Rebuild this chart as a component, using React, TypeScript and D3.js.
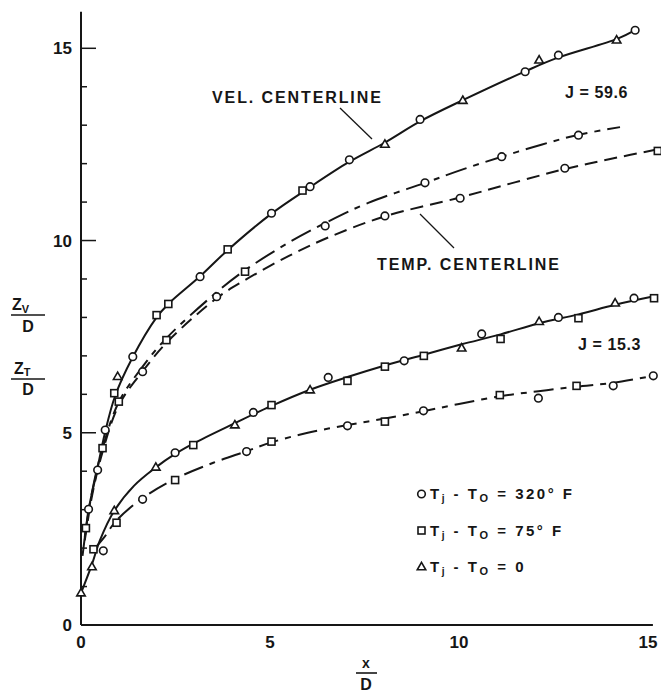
import React from 'react';
import * as d3 from 'd3';

type P = [number, number];
type M = [number, number, 'o' | 's' | 't'];

// ---- tick values ----
const X_TICK_LABELS = [0, 5, 10, 15];
const Y_TICK_LABELS = [0, 5, 10, 15];
const Y_MINOR = d3.range(1, 16);

// ---- J = 59.6, velocity centerline (solid) ----
const velHighLine: P[] = [
  [0.04, 1.8], [0.13, 2.5], [0.2, 3.0], [0.42, 4.0], [0.63, 4.98], [0.9, 5.95], [1.36, 6.95],
  [2.0, 8.0], [2.31, 8.35], [3.15, 9.07], [3.88, 9.75], [5.04, 10.7], [6.0, 11.35], [7.1, 12.05],
  [8.04, 12.55], [8.97, 13.1], [10.1, 13.65], [11.75, 14.4], [12.6, 14.75], [14.2, 15.25], [14.66, 15.47],
];
const velHighPts: M[] = [
  [0.13, 2.52, 's'], [0.2, 3.01, 'o'], [0.44, 4.03, 'o'], [0.64, 5.07, 'o'], [0.88, 6.03, 's'],
  [0.97, 6.46, 't'], [1.37, 6.98, 'o'], [2.0, 8.06, 's'], [2.31, 8.35, 's'], [3.15, 9.06, 'o'],
  [3.88, 9.77, 's'], [5.04, 10.71, 'o'], [5.86, 11.3, 's'], [6.06, 11.4, 'o'], [7.1, 12.1, 'o'],
  [8.04, 12.5, 't'], [8.97, 13.15, 'o'], [10.1, 13.64, 't'], [11.75, 14.39, 'o'], [12.12, 14.69, 't'],
  [12.63, 14.82, 'o'], [14.17, 15.21, 't'], [14.66, 15.47, 'o'],
];

// ---- J = 59.6, temperature centerline (dash-dot) ----
const tempHighALine: P[] = [
  [0.1, 2.3], [0.3, 3.5], [0.57, 4.6], [1.0, 5.8], [1.6, 6.68], [2.25, 7.45], [3.5, 8.58],
  [4.3, 9.2], [5.5, 9.95], [6.55, 10.5], [7.6, 10.98], [9.1, 11.5], [10.1, 11.85], [11.13, 12.18],
  [12.2, 12.5], [13.16, 12.75], [14.26, 12.95],
];
const tempHighAPts: M[] = [
  [0.57, 4.6, 's'], [1.0, 5.81, 's'], [2.26, 7.41, 's'], [4.34, 9.19, 's'], [6.46, 10.38, 'o'],
  [9.1, 11.5, 'o'], [11.13, 12.18, 'o'], [13.16, 12.74, 'o'],
];

// ---- J = 59.6, temperature centerline (dashed) ----
const tempHighBLine: P[] = [
  [0.1, 2.2], [0.3, 3.4], [0.57, 4.5], [1.0, 5.72], [1.63, 6.6], [2.3, 7.38], [3.59, 8.5],
  [4.3, 8.95], [5.5, 9.6], [6.59, 10.1], [8.04, 10.63], [10.03, 11.12], [11.5, 11.52], [12.8, 11.86],
  [14.0, 12.12], [15.3, 12.38],
];
const tempHighBPts: M[] = [
  [1.63, 6.59, 'o'], [3.59, 8.54, 'o'], [8.04, 10.64, 'o'], [10.03, 11.1, 'o'], [12.8, 11.88, 'o'],
  [15.26, 12.33, 's'],
];

// ---- J = 15.3, velocity centerline (solid) ----
const velLowLine: P[] = [
  [0.0, 0.83], [0.28, 1.55], [0.5, 2.2], [0.88, 2.97], [1.4, 3.62], [1.98, 4.1], [2.49, 4.45],
  [2.97, 4.72], [4.07, 5.25], [5.04, 5.7], [6.06, 6.12], [7.05, 6.45], [8.04, 6.75], [9.07, 7.03],
  [10.07, 7.3], [11.1, 7.56], [12.12, 7.85], [13.16, 8.08], [14.13, 8.33], [15.16, 8.55],
];
const velLowPts: M[] = [
  [0.0, 0.83, 't'], [0.29, 1.51, 't'], [0.33, 1.97, 's'], [0.88, 2.97, 't'], [1.98, 4.1, 't'],
  [2.49, 4.48, 'o'], [2.97, 4.68, 's'], [4.07, 5.2, 't'], [4.56, 5.53, 'o'], [5.04, 5.72, 's'],
  [6.06, 6.11, 't'], [6.54, 6.44, 'o'], [7.05, 6.35, 's'], [8.04, 6.72, 's'], [8.55, 6.87, 'o'],
  [9.07, 7.0, 's'], [10.07, 7.2, 't'], [10.6, 7.57, 'o'], [11.1, 7.44, 's'], [12.12, 7.89, 't'],
  [12.63, 8.0, 'o'], [13.16, 7.98, 's'], [14.13, 8.37, 't'], [14.63, 8.5, 'o'], [15.16, 8.5, 's'],
];

// ---- J = 15.3, temperature centerline (dash-dot) ----
const tempLowLine: P[] = [
  [0.33, 1.95], [0.59, 2.25], [0.94, 2.72], [1.63, 3.3], [2.49, 3.8], [3.5, 4.22], [4.38, 4.52],
  [5.04, 4.75], [6.0, 5.0], [7.05, 5.2], [8.04, 5.37], [9.06, 5.56], [10.0, 5.75], [11.08, 5.95],
  [12.1, 6.08], [13.11, 6.2], [14.08, 6.3], [15.14, 6.48],
];
const tempLowPts: M[] = [
  [0.59, 1.93, 'o'], [0.94, 2.66, 's'], [1.63, 3.27, 'o'], [2.49, 3.77, 's'], [4.38, 4.51, 'o'],
  [5.04, 4.77, 's'], [7.05, 5.18, 'o'], [8.04, 5.29, 's'], [9.06, 5.57, 'o'], [11.08, 5.98, 's'],
  [12.1, 5.9, 'o'], [13.11, 6.22, 's'], [14.08, 6.22, 'o'], [15.14, 6.48, 'o'],
];

// ---- legend entries ----
const LEGEND_MARKS: ('o' | 's' | 't')[] = ['o', 's', 't'];
const LEGEND_VALUES = ['320° F', '75° F', '0'];

const INK = '#161616';
const FONT = '"Liberation Sans", Arial, sans-serif';

function Marker({ cx, cy, m }: { cx: number; cy: number; m: 'o' | 's' | 't' }) {
  const common = { fill: '#fff', stroke: INK, strokeWidth: 1.6 };
  if (m === 'o') return <circle cx={cx} cy={cy} r={3.8} {...common} />;
  if (m === 's') return <rect x={cx - 3.5} y={cy - 3.5} width={7} height={7} {...common} />;
  const s = 8.5;
  const h = s * 0.866;
  return (
    <path
      d={`M${cx},${cy - h * 0.62}L${cx + s / 2},${cy + h * 0.38}L${cx - s / 2},${cy + h * 0.38}Z`}
      {...common}
    />
  );
}

export default function App() {
  const x = d3.scaleLinear().domain([0, 15]).range([81, 648]);
  const y = d3.scaleLinear().domain([0, 15]).range([625, 48.3]);
  const line = d3
    .line<P>()
    .x((d) => x(d[0]))
    .y((d) => y(d[1]))
    .curve(d3.curveCatmullRom.alpha(0.5));

  const curves: { data: P[]; dash?: string }[] = [
    { data: velHighLine },
    { data: tempHighALine, dash: '22 7 6 7' },
    { data: tempHighBLine, dash: '13 7' },
    { data: velLowLine },
    { data: tempLowLine, dash: '20 7 6 7' },
  ];
  const markerSets = [velHighPts, tempHighAPts, tempHighBPts, velLowPts, tempLowPts];

  return (
    <svg
      width={661}
      height={695}
      style={{ position: 'absolute', left: 0, top: 0, background: '#fff' }}
      fontFamily={FONT}
      fontWeight="bold"
    >
      <rect width={661} height={695} fill="#fff" />
      {/* axes */}
      <line x1={x(0)} x2={x(0)} y1={y(15.95)} y2={y(0)} stroke={INK} strokeWidth={2} />
      <line x1={x(0)} x2={x(15.13)} y1={y(0)} y2={y(0)} stroke={INK} strokeWidth={2} />
      {Y_MINOR.map((v) => (
        <line
          key={v}
          x1={x(0)}
          x2={x(0) + (v % 5 === 0 ? 15 : 6)}
          y1={y(v)}
          y2={y(v)}
          stroke={INK}
          strokeWidth={1.5}
        />
      ))}
      {Y_TICK_LABELS.map((v) => (
        <text key={v} x={x(0) - 9} y={y(v) + 6} textAnchor="end" fontSize={17} fill={INK}>
          {v}
        </text>
      ))}
      {X_TICK_LABELS.map((v) => (
        <text key={v} x={x(v)} y={648} textAnchor="middle" fontSize={17} fill={INK}>
          {v}
        </text>
      ))}

      {/* axis titles */}
      <text x={12} y={310} fontSize={16} fill={INK}>
        Z<tspan fontSize={11} dy={3}>V</tspan>
      </text>
      <line x1={11} x2={45} y1={315} y2={315} stroke={INK} strokeWidth={1.6} />
      <text x={28} y={332} fontSize={16} textAnchor="middle" fill={INK}>D</text>

      <text x={14} y={374} fontSize={16} fill={INK}>
        Z<tspan fontSize={11} dy={2}>T</tspan>
      </text>
      <line x1={11} x2={45} y1={379} y2={379} stroke={INK} strokeWidth={1.6} />
      <text x={28} y={395} fontSize={16} textAnchor="middle" fill={INK}>D</text>

      <text x={366} y={668} fontSize={14} textAnchor="middle" fill={INK}>x</text>
      <line x1={356} x2={377} y1={673} y2={673} stroke={INK} strokeWidth={1.6} />
      <text x={366} y={690} fontSize={16} textAnchor="middle" fill={INK}>D</text>

      {/* curves */}
      {curves.map((c, i) => (
        <path
          key={i}
          d={line(c.data) || ''}
          fill="none"
          stroke={INK}
          strokeWidth={2}
          strokeDasharray={c.dash}
        />
      ))}
      {markerSets.map((set, i) =>
        set.map((p, j) => <Marker key={`${i}-${j}`} cx={x(p[0])} cy={y(p[1])} m={p[2]} />)
      )}

      {/* annotations */}
      <text x={212} y={103} fontSize={16} letterSpacing={1.9} fill={INK}>VEL. CENTERLINE</text>
      <line x1={340} y1={108} x2={372} y2={139} stroke={INK} strokeWidth={1.3} />
      <text x={377} y={270} fontSize={16} letterSpacing={1.9} fill={INK}>TEMP. CENTERLINE</text>
      <line x1={420} y1={214} x2={454} y2={248} stroke={INK} strokeWidth={1.3} />
      <text x={565} y={98} fontSize={16} letterSpacing={0.6} fill={INK}>J = 59.6</text>
      <text x={578} y={350} fontSize={16} letterSpacing={0.6} fill={INK}>J = 15.3</text>

      {/* legend */}
      {LEGEND_MARKS.map((m, i) => {
        const cy = 494 + i * 36.5;
        return (
          <g key={m}>
            <Marker cx={421.5} cy={cy} m={m} />
            <text x={430} y={cy + 5} fontSize={15} letterSpacing={2.5} fill={INK}>
              T<tspan fontSize={10} dy={3}>j</tspan>
              <tspan dy={-3}> - T</tspan>
              <tspan fontSize={11} dy={3}>O</tspan>
              <tspan dy={-3}> = {LEGEND_VALUES[i]}</tspan>
            </text>
          </g>
        );
      })}
    </svg>
  );
}
